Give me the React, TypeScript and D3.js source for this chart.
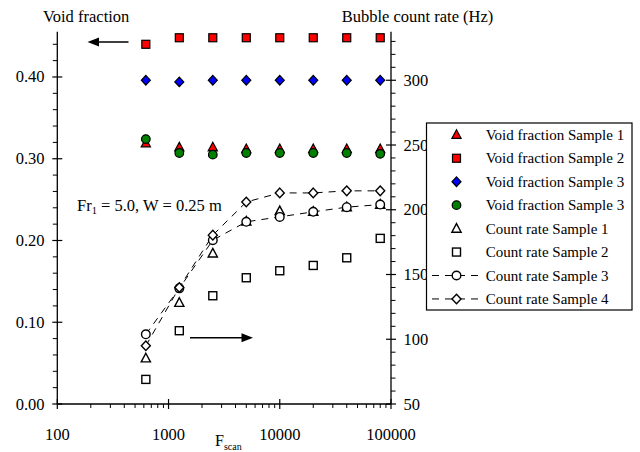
import React from "react";
import * as d3 from "d3";

const fscan = [625, 1250, 2500, 5000, 10000, 20000, 40000, 80000];
const voidS1 = [0.319, 0.314, 0.314, 0.312, 0.312, 0.312, 0.312, 0.312];
const voidS2 = [0.44, 0.448, 0.448, 0.448, 0.448, 0.448, 0.448, 0.448];
const voidS3 = [0.396, 0.394, 0.396, 0.396, 0.396, 0.396, 0.396, 0.396];
const voidS3b = [0.324, 0.307, 0.305, 0.307, 0.307, 0.307, 0.307, 0.306];
const countS1 = [85.3, 128.2, 166.3, 191, 199, 198.5, 202, 204];
const countS2 = [69, 106.6, 133.6, 147.5, 152.9, 157, 162.9, 177.9];
const countS3 = [103.8, 139.3, 176.5, 190.7, 194.5, 198.4, 202, 204];
const countS4 = [95, 140, 180.4, 206, 213, 213, 214.6, 214.6];

const xTicks = [100, 1000, 10000, 100000];
const leftTicks = [0, 0.1, 0.2, 0.3, 0.4];
const rightTicks = [50, 100, 150, 200, 250, 300];
const legendLabels = [
  "Void fraction Sample 1",
  "Void fraction Sample 2",
  "Void fraction Sample 3",
  "Void fraction Sample 3",
  "Count rate Sample 1",
  "Count rate Sample 2",
  "Count rate Sample 3",
  "Count rate Sample 4",
];

const FONT = '"Liberation Serif", "Times New Roman", Times, serif';

type MarkerKind = "tri" | "sq" | "dia" | "circ";

function Marker({ kind, x, y, fill }: { kind: MarkerKind; x: number; y: number; fill: string }) {
  const sw = fill === "white" ? 1.4 : 1.2;
  if (kind === "sq") {
    return <rect x={x - 4} y={y - 4} width={8} height={8} fill={fill} stroke="black" strokeWidth={sw} />;
  }
  if (kind === "circ") {
    return <circle cx={x} cy={y} r={4.3} fill={fill} stroke="black" strokeWidth={sw} />;
  }
  if (kind === "dia") {
    return (
      <path
        d={`M${x},${y - 4.8}L${x + 4.5},${y}L${x},${y + 4.8}L${x - 4.5},${y}Z`}
        fill={fill}
        stroke="black"
        strokeWidth={sw}
      />
    );
  }
  return (
    <path
      d={`M${x},${y - 5}L${x + 4.6},${y + 3.6}L${x - 4.6},${y + 3.6}Z`}
      fill={fill}
      stroke="black"
      strokeWidth={sw}
    />
  );
}

export default function App() {
  const W = 640;
  const H = 452;
  const x0 = 57.3;
  const x1 = 391;
  const yTop = 31.7;
  const yBot = 404;
  const TF = 16.5;

  const x = d3.scaleLog().domain([100, 100000]).range([x0, x1]);
  const yL = d3.scaleLinear().domain([0, 0.4554]).range([yBot, yTop]);
  const yR = d3.scaleLinear().domain([50, 337.5]).range([yBot, yTop]);

  const minorX: number[] = [];
  for (let d = 100; d < 100000; d *= 10) {
    for (let k = 2; k <= 9; k++) minorX.push(d * k);
  }
  const minorL = d3.range(0, 0.4554, 0.02).filter((v) => Math.abs(v * 10 - Math.round(v * 10)) > 1e-6);
  const minorR = d3.range(50, 337.6, 10).filter((v) => v % 50 !== 0);

  const line = (vals: number[]) =>
    d3
      .line<number>()
      .x((_, i) => x(fscan[i]))
      .y((v) => yR(v))(vals) as string;

  const dash = "7,6";

  const vfSeries: { vals: number[]; kind: MarkerKind; fill: string }[] = [
    { vals: voidS1, kind: "tri", fill: "#ff0000" },
    { vals: voidS2, kind: "sq", fill: "#ff0000" },
    { vals: voidS3, kind: "dia", fill: "#0000ff" },
    { vals: voidS3b, kind: "circ", fill: "#008000" },
  ];
  const crSeries: { vals: number[]; kind: MarkerKind }[] = [
    { vals: countS2, kind: "sq" },
    { vals: countS1, kind: "tri" },
    { vals: countS3, kind: "circ" },
    { vals: countS4, kind: "dia" },
  ];

  const legendItems: { kind: MarkerKind; fill: string; dashed: boolean }[] = [
    { kind: "tri", fill: "#ff0000", dashed: false },
    { kind: "sq", fill: "#ff0000", dashed: false },
    { kind: "dia", fill: "#0000ff", dashed: false },
    { kind: "circ", fill: "#008000", dashed: false },
    { kind: "tri", fill: "white", dashed: false },
    { kind: "sq", fill: "white", dashed: false },
    { kind: "circ", fill: "white", dashed: true },
    { kind: "dia", fill: "white", dashed: true },
  ];
  const legX = 426.5;
  const legY = 123;
  const legW = 205.5;
  const legH = 187;
  const rowY0 = 134.8;
  const rowDy = 23.45;

  return (
    <svg
      width={W}
      height={H}
      style={{ position: "absolute", left: 0, top: 0, background: "white", fontFamily: FONT }}
    >
      <rect x={0} y={0} width={W} height={H} fill="white" />
      {/* axes lines */}
      <line x1={x0} y1={yTop} x2={x0} y2={yBot} stroke="black" strokeWidth={1.3} />
      <line x1={x1} y1={yTop} x2={x1} y2={yBot} stroke="black" strokeWidth={1.3} />
      <line x1={x0} y1={yBot} x2={x1} y2={yBot} stroke="black" strokeWidth={1.3} />

      {/* bottom ticks */}
      {xTicks.map((t) => (
        <g key={"xt" + t}>
          <line x1={x(t)} x2={x(t)} y1={yBot - 5} y2={yBot + 5} stroke="black" strokeWidth={1.2} />
          <text x={x(t)} y={440} textAnchor="middle" fontSize={TF}>
            {t}
          </text>
        </g>
      ))}
      {minorX.map((t) => (
        <line key={"xm" + t} x1={x(t)} x2={x(t)} y1={yBot} y2={yBot + 4} stroke="black" strokeWidth={1} />
      ))}

      {/* left ticks */}
      {leftTicks.map((t) => (
        <g key={"lt" + t}>
          <line x1={x0 - 5} x2={x0 + 5} y1={yL(t)} y2={yL(t)} stroke="black" strokeWidth={1.2} />
          <text x={44.5} y={yL(t) + 5.5} textAnchor="end" fontSize={TF}>
            {t.toFixed(2)}
          </text>
        </g>
      ))}
      {minorL.map((t) => (
        <line key={"lm" + t} x1={x0 - 4.5} x2={x0} y1={yL(t)} y2={yL(t)} stroke="black" strokeWidth={1} />
      ))}

      {/* right ticks */}
      {rightTicks.map((t) => (
        <g key={"rt" + t}>
          <line x1={x1 - 5} x2={x1 + 5} y1={yR(t)} y2={yR(t)} stroke="black" strokeWidth={1.2} />
          <text x={403.5} y={yR(t) + 5.5} textAnchor="start" fontSize={TF}>
            {t}
          </text>
        </g>
      ))}
      {minorR.map((t) => (
        <line key={"rm" + t} x1={x1} x2={x1 + 4.5} y1={yR(t)} y2={yR(t)} stroke="black" strokeWidth={1} />
      ))}

      {/* axis titles */}
      <text x={43} y={22} fontSize={TF}>
        Void fraction
      </text>
      <text x={341.7} y={22} fontSize={TF}>
        Bubble count rate (Hz)
      </text>
      <text x={215} y={446} fontSize={16}>
        F
        <tspan fontSize={10} dy={4}>
          scan
        </tspan>
      </text>

      {/* annotation */}
      <text x={77} y={211} fontSize={16.5}>
        Fr
        <tspan fontSize={10.5} dy={3}>
          1
        </tspan>
        <tspan dy={-3}> = 5.0, W = 0.25 m</tspan>
      </text>

      {/* arrows */}
      <line x1={128.5} y1={42} x2={96} y2={42} stroke="black" strokeWidth={1.4} />
      <path d="M87.5,42L99,37.5L99,46.5Z" fill="black" />
      <line x1={190} y1={337.7} x2={244} y2={337.7} stroke="black" strokeWidth={1.4} />
      <path d="M253,337.7L241.5,333.2L241.5,342.2Z" fill="black" />

      {/* dashed lines for count rate 3 & 4 */}
      <path d={line(countS3)} fill="none" stroke="black" strokeWidth={1} strokeDasharray={dash} />
      <path d={line(countS4)} fill="none" stroke="black" strokeWidth={1} strokeDasharray={dash} />

      {/* count rate markers */}
      {crSeries.map((s, si) =>
        s.vals.map((v, i) => (
          <Marker key={`cr${si}-${i}`} kind={s.kind} x={x(fscan[i])} y={yR(v)} fill="white" />
        ))
      )}

      {/* void fraction markers */}
      {vfSeries.map((s, si) =>
        s.vals.map((v, i) => (
          <Marker key={`vf${si}-${i}`} kind={s.kind} x={x(fscan[i])} y={yL(v)} fill={s.fill} />
        ))
      )}

      {/* legend */}
      <rect x={legX} y={legY} width={legW} height={legH} fill="white" stroke="black" strokeWidth={1.2} />
      {legendItems.map((it, i) => {
        const cy = rowY0 + i * rowDy;
        return (
          <g key={"leg" + i}>
            {it.dashed && (
              <line
                x1={432}
                x2={483}
                y1={cy}
                y2={cy}
                stroke="black"
                strokeWidth={1}
                strokeDasharray={dash}
              />
            )}
            <Marker kind={it.kind} x={456.5} y={cy} fill={it.fill} />
            <text x={485.7} y={cy + 5} fontSize={15}>
              {legendLabels[i]}
            </text>
          </g>
        );
      })}
    </svg>
  );
}
